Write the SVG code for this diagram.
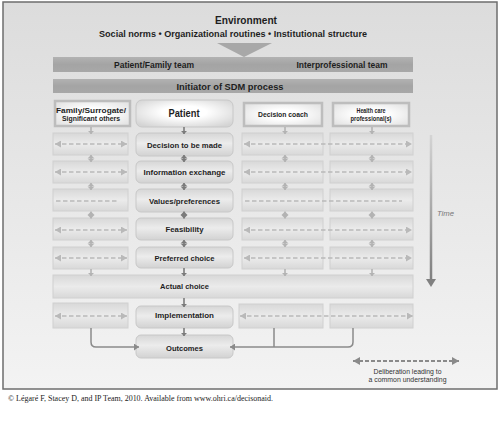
<svg xmlns="http://www.w3.org/2000/svg" width="500" height="421" viewBox="0 0 500 421">
<defs>
<style>
.t{font-family:"Liberation Sans",Arial,sans-serif;font-weight:bold;fill:#1e1e1e;text-anchor:middle}
.n{font-family:"Liberation Sans",Arial,sans-serif;fill:#333333;text-anchor:middle}
.band{fill:url(#gBand)}
.side{fill:url(#gSide);stroke:#d0d0d0;stroke-width:1}
.ctr{fill:url(#gCtr);stroke:#c8c8c8;stroke-width:1}
.hdr{fill:url(#gHdr);stroke:#bdbdbd;stroke-width:2.5}
.dl{stroke:#b9b9b9;stroke-width:1.6;stroke-dasharray:4.5 2.5;fill:none}
.va{stroke:#7b7b7b;stroke-width:1.6;fill:none}
.vl{stroke:#b3b3b3;stroke-width:1.6;fill:none}
.con{stroke:#8a8a8a;stroke-width:1.5;fill:none}
</style>
<linearGradient id="gFrame" x1="0" y1="0" x2="0" y2="1">
<stop offset="0" stop-color="#dcdcdc"/><stop offset="1" stop-color="#f3f3f3"/>
</linearGradient>
<linearGradient id="gBand" x1="0" y1="0" x2="0" y2="1">
<stop offset="0" stop-color="#b2b2b2"/><stop offset="0.5" stop-color="#a4a4a4"/><stop offset="1" stop-color="#a8a8a8"/>
</linearGradient>
<linearGradient id="gSide" x1="0" y1="0" x2="0" y2="1">
<stop offset="0" stop-color="#d8d8d8"/><stop offset="0.5" stop-color="#ebebeb"/><stop offset="1" stop-color="#d8d8d8"/>
</linearGradient>
<linearGradient id="gCtr" x1="0" y1="0" x2="0" y2="1">
<stop offset="0" stop-color="#d6d6d6"/><stop offset="0.45" stop-color="#ececec"/><stop offset="1" stop-color="#d2d2d2"/>
</linearGradient>
<radialGradient id="gHdr" cx="0.5" cy="0.5" r="0.7">
<stop offset="0.3" stop-color="#ffffff"/><stop offset="1" stop-color="#dedede"/>
</radialGradient>
<radialGradient id="gPat" cx="0.5" cy="0.45" r="0.65">
<stop offset="0.35" stop-color="#ffffff"/><stop offset="1" stop-color="#d4d4d4"/>
</radialGradient>
<linearGradient id="gTime" gradientUnits="userSpaceOnUse" x1="0" y1="135" x2="0" y2="282">
<stop offset="0" stop-color="#d4d4d4"/><stop offset="1" stop-color="#7e7e7e"/>
</linearGradient>
<marker id="hd" viewBox="0 0 4 8" refX="4" refY="4" markerWidth="3.5" markerHeight="8" markerUnits="userSpaceOnUse" orient="auto-start-reverse">
<path d="M0,0 L4,4 L0,8 z" fill="#7b7b7b"/>
</marker>
<marker id="hl" viewBox="0 0 4 8" refX="4" refY="4" markerWidth="3.5" markerHeight="8" markerUnits="userSpaceOnUse" orient="auto-start-reverse">
<path d="M0,0 L4,4 L0,8 z" fill="#b3b3b3"/>
</marker>
<marker id="hdash" viewBox="0 0 6 7" refX="6" refY="3.5" markerWidth="6" markerHeight="7" markerUnits="userSpaceOnUse" orient="auto-start-reverse">
<path d="M0,0 L6,3.5 L0,7 z" fill="#b9b9b9"/>
</marker>
<marker id="hleg" viewBox="0 0 7 8" refX="7" refY="4" markerWidth="7" markerHeight="8" markerUnits="userSpaceOnUse" orient="auto-start-reverse">
<path d="M0,0 L7,4 L0,8 z" fill="#8a8a8a"/>
</marker>
<marker id="hcon" viewBox="0 0 5 7" refX="5" refY="3.5" markerWidth="5" markerHeight="7" markerUnits="userSpaceOnUse" orient="auto">
<path d="M0,0 L5,3.5 L0,7 z" fill="#8a8a8a"/>
</marker>
</defs>

<rect x="0" y="0" width="500" height="421" fill="#ffffff"/>
<g id="frame">
<rect x="3" y="2" width="494" height="387" fill="url(#gFrame)" stroke="#6e6e6e" stroke-width="1.5"/>
</g>

<g id="environment">
<text class="t" x="246" y="24" font-size="11.5" textLength="62" lengthAdjust="spacingAndGlyphs">Environment</text>
<text class="t" x="233" y="37" font-size="8.5" textLength="268" lengthAdjust="spacingAndGlyphs">Social norms  •  Organizational routines  •  Institutional structure</text>
<path d="M217,43 L272,43 L244,57 z" fill="#a8a8a8"/>
</g>

<g id="teams">
<rect class="band" x="53" y="57" width="360" height="15"/>
<text class="t" x="154" y="68" font-size="8.5" textLength="80" lengthAdjust="spacingAndGlyphs">Patient/Family team</text>
<text class="t" x="342" y="68" font-size="8.5" textLength="91" lengthAdjust="spacingAndGlyphs">Interprofessional team</text>
</g>

<g id="initiator">
<rect class="band" x="53" y="79" width="360" height="14"/>
<text class="t" x="230" y="89.5" font-size="9" textLength="107" lengthAdjust="spacingAndGlyphs">Initiator of SDM process</text>
</g>

<g id="family">
<rect class="hdr" x="55" y="101" width="75" height="25"/>
<text class="t" x="91" y="113" font-size="7" textLength="70" lengthAdjust="spacingAndGlyphs">Family/Surrogate/</text>
<text class="t" x="91" y="120.5" font-size="7" textLength="58" lengthAdjust="spacingAndGlyphs">Significant others</text>
</g>
<g id="patient">
<rect x="136" y="100" width="97" height="27" rx="6" fill="url(#gPat)" stroke="#c8c8c8" stroke-width="1"/>
<text class="t" x="184" y="116.5" font-size="10" textLength="31" lengthAdjust="spacingAndGlyphs">Patient</text>
</g>
<g id="decision-coach">
<rect class="hdr" x="244" y="103" width="78" height="23"/>
<text class="t" x="283" y="117" font-size="7" textLength="50" lengthAdjust="spacingAndGlyphs">Decision coach</text>
</g>
<g id="health-care">
<rect class="hdr" x="333" y="103" width="76" height="23"/>
<text class="t" x="371" y="113" font-size="7" textLength="29" lengthAdjust="spacingAndGlyphs">Health care</text>
<text class="t" x="371" y="121" font-size="7" textLength="41" lengthAdjust="spacingAndGlyphs">professional(s)</text>
</g>

<g id="side-boxes">
<rect class="side" x="53" y="133" width="75" height="22"/>
<rect class="side" x="242" y="133" width="81" height="22"/>
<rect class="side" x="330" y="133" width="83" height="22"/>
<rect class="side" x="53" y="161" width="75" height="22"/>
<rect class="side" x="242" y="161" width="81" height="22"/>
<rect class="side" x="330" y="161" width="83" height="22"/>
<rect class="side" x="53" y="189" width="75" height="22"/>
<rect class="side" x="242" y="189" width="81" height="22"/>
<rect class="side" x="330" y="189" width="83" height="22"/>
<rect class="side" x="53" y="218" width="75" height="22"/>
<rect class="side" x="242" y="218" width="81" height="22"/>
<rect class="side" x="330" y="218" width="83" height="22"/>
<rect class="side" x="53" y="247" width="75" height="22"/>
<rect class="side" x="242" y="247" width="81" height="22"/>
<rect class="side" x="330" y="247" width="83" height="22"/>
<rect class="side" x="53" y="303" width="75" height="25"/>
<rect class="side" x="239" y="304" width="84" height="24"/>
<rect class="side" x="330" y="304" width="83" height="24"/>
</g>

<g id="decision-to-be-made">
<rect class="ctr" x="136" y="133" width="97" height="23" rx="5"/>
<text class="t" x="184.5" y="147.5" font-size="8" textLength="75" lengthAdjust="spacingAndGlyphs">Decision to be made</text>
</g>
<g id="information-exchange">
<rect class="ctr" x="136" y="161" width="97" height="22" rx="5"/>
<text class="t" x="184.5" y="175" font-size="8" textLength="82" lengthAdjust="spacingAndGlyphs">Information exchange</text>
</g>
<g id="values-preferences">
<rect class="ctr" x="136" y="189" width="97" height="23" rx="5"/>
<text class="t" x="184.5" y="204" font-size="8" textLength="71" lengthAdjust="spacingAndGlyphs">Values/preferences</text>
</g>
<g id="feasibility">
<rect class="ctr" x="136" y="218" width="97" height="22" rx="5"/>
<text class="t" x="184.5" y="232" font-size="8" textLength="38" lengthAdjust="spacingAndGlyphs">Feasibility</text>
</g>
<g id="preferred-choice">
<rect class="ctr" x="136" y="247" width="97" height="21" rx="5"/>
<text class="t" x="184.5" y="260.5" font-size="8" textLength="60" lengthAdjust="spacingAndGlyphs">Preferred choice</text>
</g>
<g id="actual-choice">
<rect class="side" x="53" y="275" width="360" height="23"/>
<text class="t" x="184.5" y="289" font-size="8" textLength="49" lengthAdjust="spacingAndGlyphs">Actual choice</text>
</g>
<g id="implementation">
<rect class="ctr" x="136" y="306" width="97" height="22" rx="5"/>
<text class="t" x="184.5" y="318" font-size="8" textLength="59" lengthAdjust="spacingAndGlyphs">Implementation</text>
</g>
<g id="outcomes">
<rect class="ctr" x="136" y="335" width="97" height="23" rx="5"/>
<text class="t" x="184.5" y="351" font-size="8" textLength="37" lengthAdjust="spacingAndGlyphs">Outcomes</text>
</g>

<g id="time">
<rect x="429.75" y="135" width="2.5" height="145" fill="url(#gTime)"/>
<path d="M426,279 L436,279 L431,287 z" fill="#808080"/>
<text x="437" y="216" font-family="'Liberation Sans',Arial,sans-serif" font-style="italic" font-size="8" fill="#777777" textLength="17" lengthAdjust="spacingAndGlyphs">Time</text>
</g>

<g id="connectors">
<line class="va" x1="184" y1="127" x2="184" y2="134" marker-end="url(#hd)"/>
<line class="vl" x1="91" y1="127" x2="91" y2="134" marker-end="url(#hl)"/>
<line class="vl" x1="285" y1="127" x2="285" y2="134" marker-end="url(#hl)"/>
<line class="vl" x1="372" y1="127" x2="372" y2="134" marker-end="url(#hl)"/>
<line class="va" x1="184" y1="155" x2="184" y2="162" marker-start="url(#hd)" marker-end="url(#hd)"/>
<line class="va" x1="184" y1="183" x2="184" y2="190" marker-start="url(#hd)" marker-end="url(#hd)"/>
<line class="va" x1="184" y1="211.5" x2="184" y2="218.5" marker-start="url(#hd)" marker-end="url(#hd)"/>
<line class="va" x1="184" y1="240" x2="184" y2="247" marker-start="url(#hd)" marker-end="url(#hd)"/>
<line class="vl" x1="91" y1="155" x2="91" y2="162" marker-start="url(#hl)" marker-end="url(#hl)"/>
<line class="vl" x1="91" y1="183" x2="91" y2="190" marker-start="url(#hl)" marker-end="url(#hl)"/>
<line class="vl" x1="91" y1="211.5" x2="91" y2="218.5" marker-start="url(#hl)" marker-end="url(#hl)"/>
<line class="vl" x1="91" y1="240" x2="91" y2="247" marker-start="url(#hl)" marker-end="url(#hl)"/>
<line class="vl" x1="285" y1="155" x2="285" y2="162" marker-start="url(#hl)" marker-end="url(#hl)"/>
<line class="vl" x1="285" y1="183" x2="285" y2="190" marker-start="url(#hl)" marker-end="url(#hl)"/>
<line class="vl" x1="285" y1="211.5" x2="285" y2="218.5" marker-start="url(#hl)" marker-end="url(#hl)"/>
<line class="vl" x1="285" y1="240" x2="285" y2="247" marker-start="url(#hl)" marker-end="url(#hl)"/>
<line class="vl" x1="372" y1="155" x2="372" y2="162" marker-start="url(#hl)" marker-end="url(#hl)"/>
<line class="vl" x1="372" y1="183" x2="372" y2="190" marker-start="url(#hl)" marker-end="url(#hl)"/>
<line class="vl" x1="372" y1="211.5" x2="372" y2="218.5" marker-start="url(#hl)" marker-end="url(#hl)"/>
<line class="vl" x1="372" y1="240" x2="372" y2="247" marker-start="url(#hl)" marker-end="url(#hl)"/>
<line class="va" x1="184" y1="268" x2="184" y2="276" marker-end="url(#hd)"/>
<line class="vl" x1="91" y1="269" x2="91" y2="276" marker-end="url(#hl)"/>
<line class="vl" x1="285" y1="269" x2="285" y2="276" marker-end="url(#hl)"/>
<line class="vl" x1="372" y1="269" x2="372" y2="276" marker-end="url(#hl)"/>
<line class="va" x1="184" y1="298" x2="184" y2="307" marker-end="url(#hd)"/>
<line class="va" x1="184" y1="328" x2="184" y2="336" marker-end="url(#hd)"/>
<line class="dl" x1="55" y1="144" x2="127" y2="144" marker-start="url(#hdash)" marker-end="url(#hdash)"/>
<line class="dl" x1="55" y1="172" x2="127" y2="172" marker-start="url(#hdash)" marker-end="url(#hdash)"/>
<line class="dl" x1="56" y1="201" x2="117" y2="201"/>
<line class="dl" x1="55" y1="230" x2="127" y2="230" marker-start="url(#hdash)" marker-end="url(#hdash)"/>
<line class="dl" x1="55" y1="258" x2="127" y2="258" marker-start="url(#hdash)" marker-end="url(#hdash)"/>
<line class="dl" x1="55" y1="316" x2="127" y2="316" marker-start="url(#hdash)" marker-end="url(#hdash)"/>
<line class="dl" x1="244" y1="144" x2="412" y2="144" marker-start="url(#hdash)" marker-end="url(#hdash)"/>
<line class="dl" x1="244" y1="172" x2="412" y2="172" marker-start="url(#hdash)" marker-end="url(#hdash)"/>
<line class="dl" x1="245" y1="201" x2="402" y2="201"/>
<line class="dl" x1="244" y1="230" x2="412" y2="230" marker-start="url(#hdash)" marker-end="url(#hdash)"/>
<line class="dl" x1="244" y1="258" x2="412" y2="258" marker-start="url(#hdash)" marker-end="url(#hdash)"/>
<line class="dl" x1="240" y1="316" x2="413" y2="316" marker-start="url(#hdash)" marker-end="url(#hdash)"/>
<path class="con" d="M91,328 V342 Q91,347 96,347 H139" marker-end="url(#hcon)"/>
<path class="con" d="M353,328 V342 Q353,347 348,347 H230" marker-end="url(#hcon)"/>
<line class="con" x1="274" y1="328" x2="274" y2="347"/>
</g>

<g id="legend">
<line x1="353" y1="361" x2="459" y2="361" stroke="#8a8a8a" stroke-width="2" stroke-dasharray="4 2" marker-start="url(#hleg)" marker-end="url(#hleg)"/>
<text class="n" x="407.5" y="374" font-size="6.5" textLength="68" lengthAdjust="spacingAndGlyphs">Deliberation leading to</text>
<text class="n" x="407.5" y="381.5" font-size="6.5" textLength="78" lengthAdjust="spacingAndGlyphs">a common understanding</text>
</g>

<text x="8" y="401" font-family="'Liberation Serif','Times New Roman',serif" font-size="7.5" fill="#222" textLength="265" lengthAdjust="spacingAndGlyphs">© Légaré F, Stacey D, and IP Team, 2010.  Available from www.ohri.ca/decisonaid.</text>
</svg>
